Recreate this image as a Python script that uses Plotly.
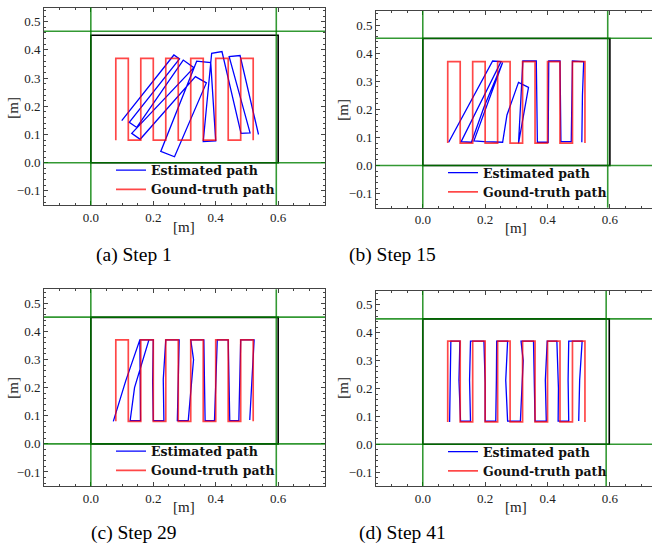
import plotly.graph_objects as go

# ---------------- data ----------------
# Ground-truth boustrophedon path (same in every panel)
gt_x = [0.08, 0.08, 0.12, 0.12, 0.16, 0.16, 0.20, 0.20, 0.24, 0.24, 0.28, 0.28,
        0.32, 0.32, 0.36, 0.36, 0.40, 0.40, 0.44, 0.44, 0.48, 0.48, 0.52, 0.52]
gt_y = [0.08, 0.37, 0.37, 0.08, 0.08, 0.37, 0.37, 0.08, 0.08, 0.37, 0.37, 0.08,
        0.08, 0.37, 0.37, 0.08, 0.08, 0.37, 0.37, 0.08, 0.08, 0.37, 0.37, 0.08]

# Estimated paths
est_a_x = [0.099, 0.266, 0.284, 0.123, 0.147, 0.296, 0.330, 0.131, 0.158, 0.335, 0.370, 0.268,
           0.224, 0.339, 0.384, 0.400, 0.360, 0.387, 0.420, 0.481, 0.510, 0.443, 0.478, 0.537]
est_a_y = [0.149, 0.382, 0.368, 0.143, 0.125, 0.364, 0.337, 0.104, 0.083, 0.305, 0.283, 0.021,
           0.040, 0.360, 0.355, 0.077, 0.075, 0.388, 0.394, 0.104, 0.106, 0.376, 0.380, 0.100]

est_b_x = [0.083, 0.224, 0.251, 0.123, 0.156, 0.197, 0.256, 0.164, 0.197, 0.256, 0.270, 0.307,
           0.339, 0.307, 0.321, 0.364, 0.3675, 0.402, 0.404, 0.440, 0.443, 0.476, 0.480, 0.516,
           0.512, 0.510]
est_b_y = [0.083, 0.372, 0.370, 0.085, 0.083, 0.210, 0.367, 0.088, 0.085, 0.083, 0.180, 0.296,
           0.278, 0.079, 0.372, 0.372, 0.083, 0.083, 0.372, 0.372, 0.085, 0.085, 0.372, 0.370,
           0.250, 0.083]

est_c_x = [0.072, 0.112, 0.157, 0.186, 0.140, 0.126, 0.159, 0.157, 0.200, 0.198, 0.200, 0.234,
           0.232, 0.240, 0.283, 0.280, 0.277, 0.312, 0.329, 0.320, 0.362, 0.364, 0.366, 0.396,
           0.400, 0.405, 0.440, 0.443, 0.445, 0.474, 0.476, 0.480, 0.523, 0.515, 0.509]
est_c_y = [0.080, 0.225, 0.370, 0.370, 0.200, 0.083, 0.083, 0.370, 0.370, 0.220, 0.083, 0.083,
           0.230, 0.370, 0.370, 0.220, 0.083, 0.083, 0.300, 0.370, 0.370, 0.220, 0.083, 0.083,
           0.230, 0.370, 0.370, 0.220, 0.083, 0.083, 0.230, 0.370, 0.370, 0.220, 0.085]

est_d_x = [0.086, 0.090, 0.119, 0.116, 0.121, 0.153, 0.150, 0.153, 0.196, 0.200, 0.200, 0.234,
           0.236, 0.237, 0.272, 0.266, 0.272, 0.313, 0.322, 0.315, 0.355, 0.358, 0.360, 0.396,
           0.393, 0.399, 0.430, 0.435, 0.434, 0.468, 0.466, 0.468, 0.511, 0.503, 0.500]
est_d_y = [0.080, 0.370, 0.370, 0.230, 0.083, 0.083, 0.230, 0.370, 0.370, 0.220, 0.083, 0.083,
           0.230, 0.370, 0.370, 0.230, 0.083, 0.083, 0.300, 0.370, 0.370, 0.220, 0.083, 0.083,
           0.230, 0.370, 0.370, 0.200, 0.083, 0.083, 0.230, 0.370, 0.370, 0.230, 0.083]

# Workspace reference lines (green) and boundary (black)
green_v = {"a": [0.0, 0.594], "b": [0.0, 0.593], "c": [0.0, 0.594], "d": [0.0, 0.588]}
green_h = {"a": [0.0, 0.466], "b": [0.0, 0.453], "c": [0.0, 0.451], "d": [0.0, 0.450]}
bound_w = {"a": 0.600, "b": 0.600, "c": 0.600, "d": 0.598}
bound_h = {"a": 0.452, "b": 0.452, "c": 0.450, "d": 0.450}

captions = {"a": "(a) Step 1", "b": "(b) Step 15", "c": "(c) Step 29", "d": "(d) Step 41"}
series_names = ["Estimated path", "Gound-truth path"]

est = {"a": (est_a_x, est_a_y), "b": (est_b_x, est_b_y),
       "c": (est_c_x, est_c_y), "d": (est_d_x, est_d_y)}

# ---------------- layout ----------------
W, H = 652, 552
def px_x(p): return p / W
def px_y(p): return 1 - p / H

panels = {
    "a": dict(n="", xd=[44, 325], yd=[7.6, 205], xr=[-0.15, 0.75], ym=True,
              leg=(111, 180), xl=(184.5, 227), yl=(12.7, 108), cap=(134, 255)),
    "b": dict(n="2", xd=[376, 652], yd=[11, 207.7], xr=[-0.15, 0.735], ym=False,
              leg=(443, 182.5), xl=(516, 228), yl=(342.7, 110), cap=(392, 255)),
    "c": dict(n="3", xd=[44, 325], yd=[289.3, 486], xr=[-0.15, 0.75], ym=True,
              leg=(111, 461), xl=(184.5, 507), yl=(12.7, 388), cap=(134, 533)),
    "d": dict(n="4", xd=[376, 652], yd=[291, 486], xr=[-0.15, 0.735], ym=False,
              leg=(443, 461.5), xl=(516, 507), yl=(342.7, 388), cap=(402, 533)),
}

SERIF = "Liberation Serif, Times New Roman, serif"
LEGFONT = "DejaVu Serif, serif"
AX = "#444444"
fig = go.Figure()
shapes, annotations = [], []
layout = dict(width=W, height=H, margin=dict(l=0, r=0, t=0, b=0),
              paper_bgcolor="white", plot_bgcolor="white", showlegend=True)

for k, p in panels.items():
    n = p["n"]
    xa, ya = "x" + n, "y" + n
    legname = "legend" + n
    ex, ey = est[k]
    fig.add_trace(go.Scatter(x=ex, y=ey, mode="lines", name=series_names[0],
                             line=dict(color="#0000ff", width=1.3),
                             xaxis=xa, yaxis=ya, legend=legname))
    fig.add_trace(go.Scatter(x=gt_x, y=gt_y, mode="lines", name=series_names[1],
                             line=dict(color="rgba(255,0,0,0.72)", width=1.7),
                             xaxis=xa, yaxis=ya, legend=legname))

    common_tick = dict(ticks="inside", ticklen=4, tickwidth=1, tickcolor=AX,
                       showline=True, linecolor=AX, linewidth=1,
                       showgrid=False, zeroline=False, tickformat=".1f",
                       tickfont=dict(family=SERIF, size=13, color="#222222"))
    layout["xaxis" + n] = dict(domain=[px_x(p["xd"][0]), px_x(p["xd"][1])],
                               range=p["xr"], anchor=ya, dtick=0.2, tick0=0,
                               mirror="allticks",
                               minor=dict(dtick=0.05, tick0=0, ticks="inside", ticklen=2,
                                          tickcolor=AX),
                               **common_tick)
    layout["yaxis" + n] = dict(domain=[px_y(p["yd"][1]), px_y(p["yd"][0])],
                               range=[-0.15, 0.55], anchor=xa, dtick=0.1, tick0=0,
                               mirror="allticks" if p["ym"] else False,
                               minor=dict(dtick=0.02, tick0=0, ticks="inside", ticklen=2,
                                          tickcolor=AX),
                               **common_tick)
    layout[legname] = dict(x=px_x(p["leg"][0]), y=px_y(p["leg"][1]), xanchor="left",
                           yanchor="middle", bgcolor="rgba(0,0,0,0)", borderwidth=0,
                           font=dict(family=LEGFONT, size=12.5, color="#111111", weight="bold"),
                           tracegroupgap=0)

    # boundary rectangle (black), then green reference lines on top
    shapes.append(dict(type="rect", xref=xa, yref=ya, x0=0, y0=0,
                       x1=bound_w[k], y1=bound_h[k],
                       line=dict(color="black", width=1.6), layer="above"))
    for gv in green_v[k]:
        shapes.append(dict(type="line", xref=xa, yref=ya + " domain", x0=gv, x1=gv,
                           y0=0, y1=1, line=dict(color="rgba(0,128,0,0.8)", width=1.6)))
    for gh in green_h[k]:
        shapes.append(dict(type="line", xref=xa + " domain", yref=ya, x0=0, x1=1,
                           y0=gh, y1=gh, line=dict(color="rgba(0,128,0,0.8)", width=1.6)))

    # axis titles
    annotations.append(dict(text="[m]", xref="paper", yref="paper",
                            x=px_x(p["xl"][0]), y=px_y(p["xl"][1]), showarrow=False,
                            xanchor="center", yanchor="middle",
                            font=dict(family=SERIF, size=15, color="#222222")))
    annotations.append(dict(text="[m]", xref="paper", yref="paper", textangle=-90,
                            x=px_x(p["yl"][0]), y=px_y(p["yl"][1]), showarrow=False,
                            xanchor="center", yanchor="middle",
                            font=dict(family=SERIF, size=15, color="#222222")))
    # caption
    annotations.append(dict(text=captions[k], xref="paper", yref="paper",
                            x=px_x(p["cap"][0]), y=px_y(p["cap"][1]), showarrow=False,
                            xanchor="center", yanchor="middle",
                            font=dict(family=SERIF, size=19.5, color="black")))

layout["shapes"] = shapes
layout["annotations"] = annotations
fig.update_layout(**layout)
fig.write_html("out.html",
               config={"displayModeBar": False},
               post_script="document.body.style.margin='0';"
                           "document.body.style.overflow='hidden';")
